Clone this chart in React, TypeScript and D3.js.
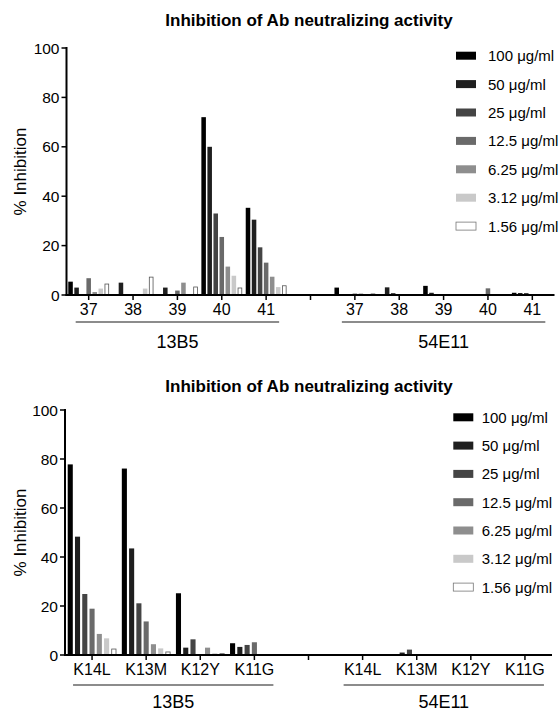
import React from 'react';
import * as d3 from 'd3';

const concentrations = ["100 μg/ml", "50 μg/ml", "25 μg/ml", "12.5 μg/ml", "6.25 μg/ml", "3.12 μg/ml", "1.56 μg/ml"];
const barColors = ["#000000", "#1f1f1f", "#444444", "#6a6a6a", "#8e8e8e", "#c9c9c9", "#ffffff"];
const antibodies = ["13B5", "54E11"];
const peptideLabels = ["37", "38", "39", "40", "41"];
const mutantLabels = ["K14L", "K13M", "K12Y", "K11G"];
const yTicks = [0, 20, 40, 60, 80, 100];
const chartTitle = "Inhibition of Ab neutralizing activity";
const yLabel = "% Inhibition";

// values per category, one per concentration (100 → 1.56 μg/ml)
const peptide13B5 = [
  [5.4, 3.0, 0, 6.8, 1.2, 2.6, 4.6],
  [0, 5.0, 0, 0, 0, 2.6, 7.4],
  [0, 3.0, 0, 1.8, 5.0, 0, 3.4],
  [72, 60, 33, 23.5, 11.5, 7.8, 3.0],
  [35.3, 30.5, 19.3, 13.1, 7.4, 3.2, 3.9],
];
const peptide54E11 = [
  [3.0, 0, 0, 0.6, 0.6, 0, 0.6],
  [0, 3.1, 0.8, 0, 0, 0, 0.4],
  [3.7, 0.9, 0, 0, 0, 0, 0],
  [0.4, 0, 0, 2.7, 0.3, 0.3, 0],
  [0.9, 0.8, 0.8, 0.4, 0, 0, 0],
];
const mutant13B5 = [
  [77.8, 48.3, 24.9, 18.9, 8.6, 6.8, 2.6],
  [76.1, 43.5, 21.1, 13.7, 4.4, 2.7, 1.4],
  [25.2, 3.0, 6.4, 0, 3.0, 0.7, 0.7],
  [4.8, 3.3, 4.1, 5.2, 0.3, 0, 0],
];
const mutant54E11 = [
  [0, 0, 0, 0, 0, 0, 0],
  [0, 1.0, 2.2, 0.3, 0, 0, 0],
  [0, 0, 0, 0, 0, 0, 0],
  [0, 0, 0, 0, 0, 0, 0],
];

const FONT = "'Liberation Sans', Arial, sans-serif";

type PanelProps = {
  labels: string[];
  data: number[][][];
  yTop: number;
  yBottom: number;
  xStart: number;
  xEnd: number;
  outerPad: number;
  innerPad: number;
  titleY: number;
  groupLineDy: number;
  groupLineExt: number;
  groupLabelDy: number;
  legendX: number;
  legendTextX: number;
  legendY0: number;
  legendStep: number;
};

function Panel(p: PanelProps) {
  const keys: string[] = [];
  antibodies.forEach((ab, ai) => {
    p.labels.forEach((l) => keys.push(ab + "|" + l));
    if (ai < antibodies.length - 1) keys.push("gap" + ai);
  });
  const x0 = d3.scaleBand<string>().domain(keys).range([p.xStart, p.xEnd]).paddingInner(p.outerPad).paddingOuter(p.outerPad / 2);
  const x1 = d3.scaleBand<number>().domain(d3.range(concentrations.length)).range([0, x0.bandwidth()]).paddingInner(p.innerPad);
  const y = d3.scaleLinear().domain([0, 100]).range([p.yBottom, p.yTop]);
  const y0 = y(0);
  const center = (k: string) => (x0(k) as number) + x0.bandwidth() / 2;

  const bars: JSX.Element[] = [];
  antibodies.forEach((ab, ai) => {
    p.labels.forEach((l, ci) => {
      const k = ab + "|" + l;
      p.data[ai][ci].forEach((v, si) => {
        if (v <= 0) return;
        const white = barColors[si] === "#ffffff";
        bars.push(
          <rect
            key={k + si}
            x={(x0(k) as number) + (x1(si) as number) + (white ? 0.4 : 0)}
            y={y(v) + (white ? 0.4 : 0)}
            width={x1.bandwidth() - (white ? 0.8 : 0)}
            height={y0 - y(v) - (white ? 0.4 : 0)}
            fill={barColors[si]}
            stroke={white ? "#555" : "none"}
            strokeWidth={white ? 0.8 : 0}
          />
        );
      });
    });
  });

  return (
    <g fontFamily={FONT}>
      <text x={309} y={p.titleY} textAnchor="middle" fontWeight="bold" fontSize={17} fill="#000">{chartTitle}</text>
      <text transform={`translate(${20},${(p.yTop + p.yBottom) / 2}) rotate(-90)`} textAnchor="middle" dominantBaseline="central" fontSize={17} fill="#000">{yLabel}</text>
      {bars}
      {/* y axis */}
      <line x1={p.xStart} x2={p.xStart} y1={y0 + 1} y2={y(100) - 1} stroke="#000" strokeWidth={2} />
      {yTicks.map((t) => (
        <g key={t}>
          <line x1={p.xStart - 5} x2={p.xStart} y1={y(t)} y2={y(t)} stroke="#000" strokeWidth={1.5} />
          <text x={p.xStart - 7} y={y(t)} textAnchor="end" dominantBaseline="central" fontSize={15.5} fill="#000">{t}</text>
        </g>
      ))}
      {/* x axis */}
      <line x1={p.xStart - 1} x2={p.xEnd} y1={y0} y2={y0} stroke="#000" strokeWidth={2} />
      {keys.map((k) => (
        <line key={k} x1={center(k)} x2={center(k)} y1={y0} y2={y0 + 5} stroke="#000" strokeWidth={1.5} />
      ))}
      {antibodies.map((ab) =>
        p.labels.map((l) => (
          <text key={ab + l} x={center(ab + "|" + l)} y={y0 + 20} textAnchor="middle" fontSize={16} fill="#000">{l}</text>
        ))
      )}
      {antibodies.map((ab) => {
        const a = center(ab + "|" + p.labels[0]) - p.groupLineExt;
        const b = center(ab + "|" + p.labels[p.labels.length - 1]) + p.groupLineExt;
        return (
          <g key={ab}>
            <line x1={a} x2={b} y1={y0 + p.groupLineDy} y2={y0 + p.groupLineDy} stroke="#666" strokeWidth={1.5} />
            <text x={(a + b) / 2} y={y0 + p.groupLabelDy} textAnchor="middle" fontSize={18} fill="#000">{ab}</text>
          </g>
        );
      })}
      {/* legend */}
      {concentrations.map((c, i) => {
        const cy = p.legendY0 + i * p.legendStep;
        const white = barColors[i] === "#ffffff";
        return (
          <g key={c}>
            <rect x={p.legendX} y={cy - 4} width={20} height={8} fill={barColors[i]} stroke={white ? "#777" : "none"} strokeWidth={white ? 0.8 : 0} />
            <text x={p.legendTextX} y={cy} dominantBaseline="central" fontSize={15} fill="#000">{c}</text>
          </g>
        );
      })}
    </g>
  );
}

export default function App() {
  return (
    <svg width={558} height={711} style={{ position: "absolute", left: 0, top: 0, background: "#fff" }}>
      <rect width={558} height={711} fill="#fff" />
      <Panel
        labels={peptideLabels}
        data={[peptide13B5, peptide54E11]}
        yTop={48}
        yBottom={295}
        xStart={66.5}
        xEnd={554.5}
        outerPad={0.08}
        innerPad={0.25}
        titleY={26}
        groupLineDy={27}
        groupLineExt={13}
        groupLabelDy={53}
        legendX={456}
        legendTextX={488}
        legendY0={55.7}
        legendStep={28.4}
      />
      <Panel
        labels={mutantLabels}
        data={[mutant13B5, mutant54E11]}
        yTop={410}
        yBottom={655}
        xStart={65}
        xEnd={552}
        outerPad={0.1}
        innerPad={0.3}
        titleY={392}
        groupLineDy={30}
        groupLineExt={19}
        groupLabelDy={53}
        legendX={453.3}
        legendTextX={481.7}
        legendY0={417.3}
        legendStep={28.3}
      />
    </svg>
  );
}
